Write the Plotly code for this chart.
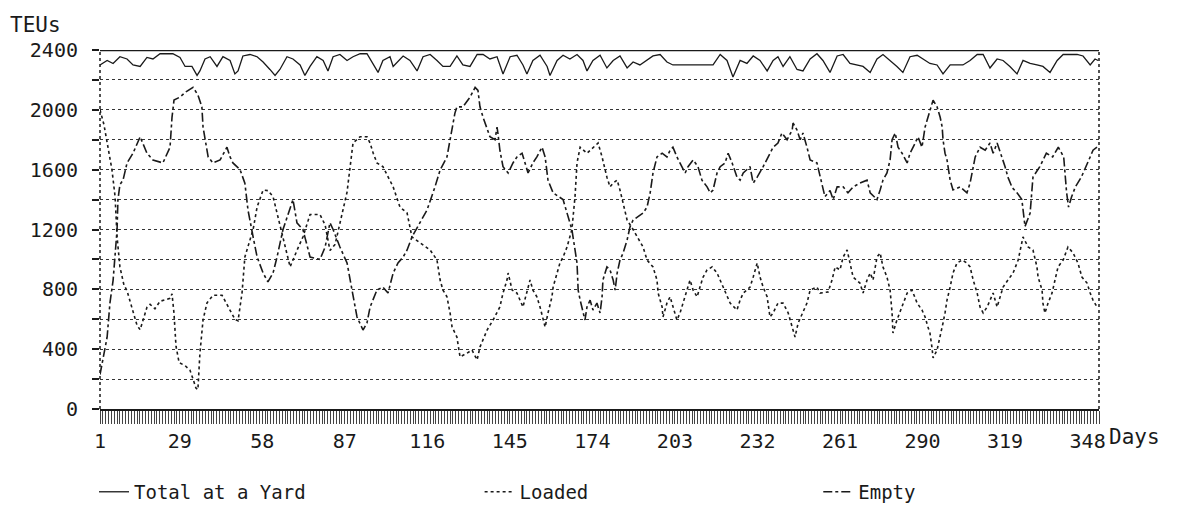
import plotly.graph_objects as go

# ---------------- data ----------------
tick_days = [1, 29, 58, 87, 116, 145, 174, 203, 232, 261, 290, 319, 348]
y_ticks = list(range(0, 2401, 200))
y_labels = [str(v) if v % 400 == 0 else "" for v in y_ticks]

total_days = [1.0, 3.5, 5.6, 8.0, 10.5, 12.6, 15.1, 17.5, 19.6, 22.1, 24.5, 26.6, 29.1, 30.9, 33.3, 35.1, 36.1, 37.9, 39.7, 42.1,
              44.2, 46.7, 48.4, 49.5, 51.2, 53.7, 56.2, 58.3, 60.7, 62.5, 64.2, 66.7, 68.8, 71.3, 73.0, 74.8, 77.2, 79.4, 81.1, 82.9,
              85.3, 87.8, 89.9, 92.4, 94.8, 96.9, 98.7, 100.4, 102.9, 104.0, 107.5, 109.9, 112.4, 114.5, 117.0, 119.4, 121.5, 124.0,
              126.4, 128.5, 131.0, 133.5, 135.6, 138.0, 140.5, 142.6, 145.1, 147.5, 149.6, 151.0, 153.1, 155.6, 158.1, 159.1, 161.6,
              163.7, 166.1, 168.6, 170.7, 172.1, 174.2, 176.7, 179.1, 181.3, 183.7, 186.2, 188.3, 190.7, 193.2, 195.3, 197.8, 200.2,
              202.3, 204.8, 210.8, 216.4, 218.9, 221.3, 223.4, 225.9, 228.3, 230.5, 232.9, 235.4, 237.5, 239.2, 241.0, 243.4, 245.9,
              248.0, 250.5, 252.9, 255.0, 257.5, 260.0, 262.1, 264.5, 267.0, 269.1, 271.6, 274.0, 276.1, 278.6, 281.0, 283.1, 285.6,
              288.1, 290.2, 292.6, 295.1, 297.2, 299.7, 304.2, 306.7, 309.2, 311.3, 313.7, 316.2, 318.3, 320.7, 323.2, 325.3, 327.8,
              330.2, 332.3, 334.8, 337.3, 339.4, 341.8, 344.3, 346.4, 348.9, 350.6, 351.7]
total_teu = [2300, 2330, 2310, 2355, 2340, 2300, 2290, 2350, 2340, 2375, 2375, 2375, 2350, 2290, 2290, 2230, 2260, 2340, 2355, 2290,
             2355, 2330, 2240, 2260, 2360, 2370, 2355, 2320, 2270, 2230, 2270, 2355, 2340, 2300, 2230, 2290, 2355, 2330, 2260, 2355,
             2370, 2330, 2355, 2375, 2375, 2310, 2250, 2330, 2355, 2290, 2360, 2330, 2260, 2355, 2370, 2330, 2290, 2290,
             2360, 2300, 2290, 2370, 2370, 2340, 2355, 2240, 2355, 2365, 2300, 2240, 2330, 2365, 2290, 2230, 2330,
             2365, 2340, 2370, 2330, 2260, 2330, 2365, 2280, 2330, 2360, 2280, 2320, 2300, 2330, 2360, 2370, 2320,
             2300, 2300, 2300, 2300, 2370, 2330, 2220, 2330, 2310, 2360, 2330, 2260, 2330, 2355, 2290, 2355, 2270,
             2260, 2340, 2375, 2330, 2250, 2360, 2370, 2310, 2300, 2290, 2250, 2340, 2370, 2330, 2290, 2250, 2355,
             2365, 2340, 2310, 2300, 2240, 2300, 2300, 2330, 2370, 2370, 2280, 2340, 2330, 2290, 2240, 2330, 2310,
             2300, 2290, 2250, 2330, 2370, 2370, 2370, 2360, 2300, 2340, 2330]

loaded_days = [1.0, 2.4, 3.8, 5.2, 6.3, 7.0, 8.0, 9.4, 10.5, 12.6, 14.0, 15.1, 16.1, 17.5, 18.6, 20.3, 22.1, 23.8, 25.6, 26.3,
               27.0, 27.7, 28.8, 30.9, 32.6, 33.7, 34.7, 35.4, 36.1, 37.2, 38.6, 40.7, 43.9, 46.7, 48.4, 49.5, 50.9, 51.9, 54.8,
               56.2, 58.3, 60.0, 61.8, 63.2, 65.3, 67.8, 70.2, 72.3, 74.8, 78.3, 80.1, 81.8, 83.6, 85.3, 87.8, 89.9, 92.4, 94.8,
               95.9, 97.0, 98.3, 100.4, 102.9, 104.0, 106.4, 108.9, 110.6, 117.0, 119.4, 120.5, 121.5, 122.9, 124.0, 124.7, 126.4,
               127.5, 130.0, 131.7, 133.5, 134.5, 137.0, 139.1, 141.5, 142.6, 144.0, 144.4, 145.8, 147.5, 149.6, 151.0, 152.1,
               153.1, 154.5, 155.6, 157.4, 158.4, 159.8, 160.2, 161.6, 162.6, 163.7, 165.1, 166.8, 167.9, 168.6, 169.7, 172.1,
               174.2, 176.0, 177.4, 179.1, 180.2, 181.3, 182.7, 183.7, 186.2, 188.3, 191.8, 193.2, 195.3, 196.7, 197.1, 198.5,
               198.8, 200.2, 201.3, 202.3, 203.7, 204.8, 205.9, 207.3, 208.3, 209.4, 210.8, 211.8, 212.9, 214.3, 216.1, 217.8,
               218.9, 220.6, 222.4, 224.8, 225.9, 227.0, 229.4, 230.5, 231.9, 232.9, 234.0, 235.4, 236.4, 237.5, 239.2, 241.0,
               242.8, 244.2, 245.2, 246.3, 248.0, 249.4, 250.5, 252.9, 254.0, 256.8, 258.2, 259.3, 261.0, 262.1, 263.5, 264.5,
               265.6, 268.0, 269.1, 270.5, 271.6, 272.6, 274.0, 275.1, 276.1, 277.5, 278.6, 279.3, 279.6, 281.0, 282.8, 284.6,
               286.3, 288.1, 289.8, 290.9, 291.9, 292.6, 293.3, 293.7, 295.1, 296.2, 297.2, 297.9, 298.6, 299.7, 300.7, 302.1,
               303.9, 305.6, 306.7, 307.8, 309.2, 310.2, 311.3, 312.7, 313.7, 314.8, 316.2, 317.2, 318.3, 320.0, 321.8, 323.6,
               325.3, 327.1, 328.8, 330.2, 330.6, 332.0, 332.3, 333.0, 334.1, 335.5, 336.6, 337.6, 339.4, 341.1, 342.9, 344.6,
               346.0, 347.8, 348.9, 349.9, 351.3]
loaded_teu = [2000, 1900, 1750, 1600, 1420, 1150, 950, 830, 790, 650, 560, 530, 600, 680, 700, 670, 720, 730, 740, 770,
              640, 420, 310, 290, 260, 200, 140, 130, 370, 595, 710, 760, 760, 660, 600, 590, 775, 1016, 1200,
              1350, 1464, 1460, 1420, 1310, 1150, 950, 1060, 1150, 1300, 1300, 1230, 1060, 1100, 1250, 1450, 1778, 1820, 1820,
              1778, 1710, 1645, 1620, 1530, 1485, 1350, 1310, 1150, 1063, 996, 862, 795, 750, 642, 548, 481,
              348, 374, 394, 328, 414, 528, 595, 682, 775, 862, 909, 795, 775, 682, 795, 862,
              795, 750, 682, 548, 642, 750, 815, 909, 976, 1016, 1083, 1200, 1420, 1645, 1750, 1710,
              1750, 1778, 1685, 1550, 1485, 1510, 1530, 1464, 1263, 1200, 1083, 996, 950, 862, 775, 682,
              615, 708, 750, 682, 595, 642, 708, 795, 862, 795, 750, 815, 882, 930, 950, 909,
              862, 795, 708, 662, 728, 775, 815, 882, 976, 882, 815, 750, 615, 642, 708, 708,
              642, 548, 481, 575, 642, 708, 795, 815, 775, 782, 862, 950, 930, 1016, 1063, 976,
              882, 842, 775, 862, 909, 862, 1016, 1043, 950, 882, 795, 642, 508, 595, 682, 775,
              795, 708, 662, 615, 548, 508, 414, 341, 394, 481, 575, 642, 728, 815, 909, 976,
              996, 976, 950, 862, 775, 682, 642, 682, 728, 775, 682, 750, 815, 862, 909, 996,
              1150, 1083, 1063, 950, 882, 795, 708, 642, 708, 775, 862, 950, 996, 1083, 1043, 976,
              882, 842, 775, 728, 682]

empty_days = [1.0, 1.7, 2.4, 3.5, 4.5, 5.6, 7.0, 7.3, 8.0, 9.1, 10.5, 12.6, 15.1, 17.5, 19.6, 23.1, 25.6, 26.3, 27.0, 29.1,
              31.2, 33.7, 35.4, 36.8, 37.2, 37.9, 39.0, 40.7, 43.2, 45.6, 46.7, 47.7, 50.2, 51.9, 53.0, 54.8, 56.2, 58.3, 60.0,
              61.8, 63.2, 65.3, 67.8, 68.8, 70.2, 72.3, 74.8, 78.3, 80.1, 81.8, 82.9, 85.3, 87.8, 89.5, 91.3, 93.4, 94.8, 95.9,
              98.3, 100.4, 102.2, 104.0, 105.7, 107.5, 108.9, 110.6, 113.4, 115.9, 118.7, 120.5, 122.9, 124.0, 124.7, 125.7,
              126.4, 128.5, 131.0, 132.8, 133.8, 134.5, 135.6, 137.0, 138.0, 139.8, 140.5, 140.8, 141.5, 142.6, 144.4, 146.1,
              147.5, 149.3, 150.3, 151.4, 153.1, 154.5, 156.3, 157.4, 158.4, 160.2, 163.7, 165.1, 166.8, 168.6, 169.0, 169.7,
              170.7, 171.4, 172.1, 173.2, 174.2, 175.6, 176.7, 177.4, 177.7, 179.1, 180.2, 181.3, 182.0, 182.7, 183.7, 184.8,
              186.2, 187.2, 188.3, 191.8, 193.2, 194.3, 195.3, 196.7, 198.5, 200.2, 201.3, 202.3, 203.7, 204.8, 206.6, 207.6,
              209.4, 211.1, 212.5, 214.3, 215.4, 216.4, 217.8, 218.9, 220.6, 221.7, 223.1, 224.8, 225.9, 227.0, 229.4, 230.5,
              231.9, 234.0, 235.7, 237.5, 239.2, 240.6, 242.4, 244.2, 244.5, 245.9, 247.0, 248.0, 249.4, 250.5, 252.9, 254.7,
              255.7, 257.5, 258.6, 260.0, 262.1, 263.8, 265.6, 268.0, 270.5, 271.6, 274.0, 275.1, 276.1, 277.5, 278.6, 279.3,
              280.4, 281.4, 282.8, 284.6, 285.6, 287.4, 288.4, 289.8, 290.9, 291.6, 292.6, 293.7, 295.1, 296.2, 296.9, 297.2,
              297.9, 298.6, 299.7, 300.7, 303.2, 305.6, 306.7, 308.5, 310.2, 312.0, 313.7, 314.8, 316.2, 317.9, 319.0, 320.0,
              321.5, 323.2, 324.9, 326.0, 327.8, 328.8, 331.2, 333.5, 335.7, 337.7, 339.6, 340.6, 341.3, 342.4, 343.7, 345.8,
              347.8, 348.9, 349.9, 351.3]
empty_teu = [230, 300, 350, 480, 710, 860, 1200, 1400, 1500, 1530, 1645, 1710, 1820, 1710, 1665, 1645, 1750, 1950, 2065, 2085,
             2120, 2150, 2100, 2020, 1885, 1800, 1685, 1645, 1665, 1750, 1685, 1645, 1600, 1510, 1330, 1150, 1016, 909, 850,
             909, 1016, 1200, 1350, 1400, 1245, 1200, 1016, 1000, 1083, 1245, 1200, 1083, 976, 795, 615, 528, 575, 682,
             795, 815, 775, 909, 976, 1016, 1063, 1150, 1250, 1330, 1485, 1598, 1685, 1800, 1885, 1978,
             2020, 2020, 2085, 2150, 2130, 2020, 1950, 1865, 1820, 1800, 1885, 1845, 1730, 1620, 1578, 1645,
             1685, 1710, 1645, 1578, 1645, 1685, 1750, 1685, 1530, 1445, 1400, 1310, 1200, 976, 795, 728,
             642, 595, 682, 728, 662, 708, 642, 750, 862, 950, 930, 862, 795, 909, 996, 1043,
             1130, 1216, 1263, 1310, 1350, 1445, 1578, 1685, 1710, 1685, 1730, 1750, 1685, 1645, 1578, 1620,
             1665, 1620, 1530, 1485, 1445, 1464, 1578, 1620, 1645, 1710, 1645, 1550, 1530, 1578, 1620, 1510,
             1550, 1620, 1685, 1750, 1778, 1845, 1800, 1865, 1912, 1865, 1800, 1845, 1750, 1665, 1645, 1500,
             1420, 1460, 1400, 1485, 1485, 1445, 1485, 1510, 1530, 1445, 1400, 1464, 1530, 1578, 1665, 1800,
             1845, 1750, 1710, 1645, 1710, 1778, 1820, 1750, 1885, 1930, 2000, 2065, 2020, 1950, 1885, 1800,
             1710, 1665, 1530, 1464, 1485, 1445, 1510, 1685, 1750, 1730, 1778, 1710, 1778, 1685, 1620, 1550,
             1480, 1445, 1400, 1220, 1310, 1550, 1620, 1710, 1685, 1750, 1685, 1450, 1350, 1420, 1485, 1550,
             1645, 1685, 1730, 1750]

# ---------------- figure ----------------
INK = "#1a1a1a"
fig = go.Figure()
fig.add_trace(go.Scatter(x=total_days, y=total_teu, mode="lines", name="Total at a Yard",
                         legend="legend", line=dict(color=INK, width=1.3, dash="solid")))
fig.add_trace(go.Scatter(x=loaded_days, y=loaded_teu, mode="lines", name="Loaded",
                         legend="legend2", line=dict(color=INK, width=1.6, dash="dot")))
fig.add_trace(go.Scatter(x=empty_days, y=empty_teu, mode="lines", name="Empty",
                         legend="legend3", line=dict(color=INK, width=1.6, dash="dashdot")))

mono = "DejaVu Sans Mono"
leg_font = dict(family=mono, size=19, color=INK)
def leg(xpos):
    return dict(orientation="h", x=xpos, xanchor="left", y=-0.231, yanchor="middle",
                itemwidth=30, font=leg_font, bgcolor="rgba(0,0,0,0)")

# page body adds an 8px margin, so the figure is 8px smaller and margins shifted
fig.update_layout(
    width=1177, height=498,
    margin=dict(l=92, r=86, t=42, b=97, autoexpand=False),
    paper_bgcolor="white", plot_bgcolor="white",
    showlegend=True,
    legend=leg(-0.006),
    legend2=leg(0.38),
    legend3=leg(0.719),
    xaxis=dict(range=[1, 352], tickmode="array", tickvals=tick_days,
               ticktext=[str(t) for t in tick_days], automargin=False,
               ticks="outside", ticklen=13, tickcolor="#444", tickwidth=1,
               tickfont=dict(family=mono, size=20, color=INK),
               showgrid=False, zeroline=False,
               showline=True, linecolor=INK, linewidth=2,
               minor=dict(tickmode="linear", tick0=1, dtick=1, ticks="outside",
                          ticklen=13, tickcolor="#444", tickwidth=1, showgrid=False)),
    yaxis=dict(range=[0, 2400], tickmode="array", tickvals=y_ticks, ticktext=y_labels,
               ticks="outside", ticklen=7, tickwidth=2, tickcolor=INK, automargin=False,
               ticklabelstandoff=10,
               tickfont=dict(family=mono, size=20, color=INK),
               showgrid=True, gridcolor="#333", gridwidth=1, griddash="dot",
               zeroline=False, showline=False),
)

# frame: solid top, dotted sides
fig.add_shape(type="line", xref="paper", yref="y", x0=0, x1=1, y0=2400, y1=2400,
              line=dict(color=INK, width=2.5))
fig.add_shape(type="line", xref="paper", yref="y", x0=0, x1=0, y0=0, y1=2400,
              line=dict(color=INK, width=1.5, dash="dot"))
fig.add_shape(type="line", xref="paper", yref="y", x0=1, x1=1, y0=0, y1=2400,
              line=dict(color=INK, width=1.5, dash="dot"))

fig.add_annotation(text="TEUs", xref="paper", yref="paper", x=-0.092, y=1.108,
                   xanchor="left", yanchor="top", showarrow=False,
                   font=dict(family=mono, size=21, color=INK))
fig.add_annotation(text="Days", xref="paper", yref="paper", x=1.008, y=-0.078,
                   xanchor="left", yanchor="middle", showarrow=False,
                   font=dict(family=mono, size=21, color=INK))

fig.write_html("out.html")
